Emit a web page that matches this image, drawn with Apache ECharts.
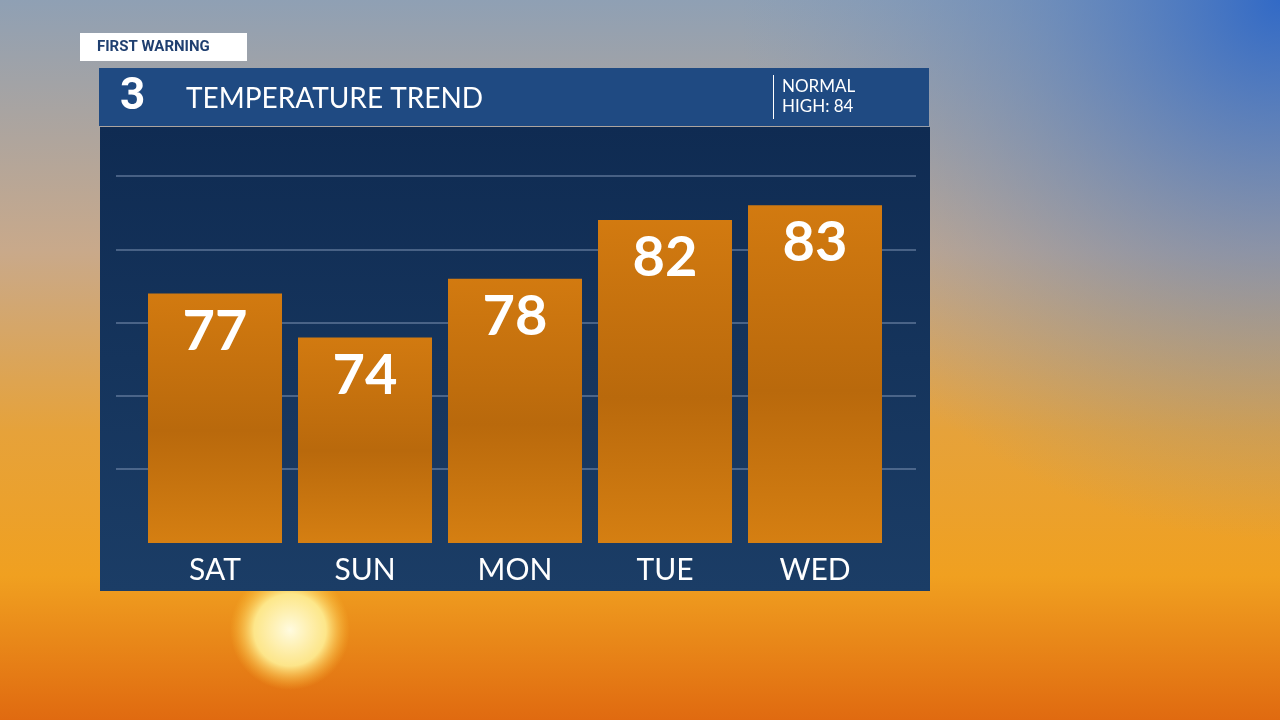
<!DOCTYPE html>
<html><head><meta charset="utf-8">
<script src="https://cdn.jsdelivr.net/npm/echarts@6/dist/echarts.min.js"></script>
<style>html,body{margin:0;padding:0;}#c{width:1280px;height:720px;}</style>
</head><body><div id="c"></div>
<script>
const days = ['SAT','SUN','MON','TUE','WED'];
const temps = [77, 74, 78, 82, 83];
const yMin = 60, yMax = 85, yStep = 5;
const title = 'TEMPERATURE TREND';
const normalText = 'NORMAL\nHIGH: 84';
const badge = 'FIRST WARNING';

const chart = echarts.init(document.getElementById('c'));
const barColor = new echarts.graphic.LinearGradient(0,0,0,1,[
  {offset:0,color:'#d27a10'},{offset:0.55,color:'#b9690c'},{offset:1,color:'#d57f12'}]);
chart.setOption({
  animation:false,
  graphic:[
    {type:'rect',z:-10,shape:{x:0,y:0,width:1280,height:720},style:{fill:new echarts.graphic.LinearGradient(0,0,0,1,[
      {offset:0,color:'#8fa0b4'},{offset:0.35,color:'#c9a98a'},{offset:0.6,color:'#e6a23a'},{offset:0.8,color:'#f0a020'},{offset:1,color:'#e06a10'}])}},
    {type:'rect',z:-9,shape:{x:0,y:0,width:1280,height:720},style:{fill:new echarts.graphic.RadialGradient(1,0,0.75,[
      {offset:0,color:'rgba(40,100,200,0.9)'},{offset:0.5,color:'rgba(90,130,190,0.5)'},{offset:1,color:'rgba(120,150,190,0)'}])}},
    {type:'circle',z:-8,shape:{cx:290,cy:630,r:60},style:{fill:new echarts.graphic.RadialGradient(0.5,0.5,0.5,[
      {offset:0,color:'#fffbe0'},{offset:0.6,color:'rgba(255,240,150,0.9)'},{offset:1,color:'rgba(255,200,60,0)'}])}},
    {type:'rect',z:-5,shape:{x:99,y:68,width:830,height:58},style:{fill:'#1f4a82'}},
    {type:'rect',z:-5,shape:{x:100,y:127,width:830,height:464},style:{fill:new echarts.graphic.LinearGradient(0,0,0,1,[
      {offset:0,color:'#0f2b52'},{offset:1,color:'#1b3d66'}])}},
    {type:'rect',z:-4,shape:{x:80,y:33,width:167,height:28},style:{fill:'#ffffff'}},
    {type:'text',z:5,style:{x:97,y:47,text:badge,fill:'#1f3f70',font:'bold 15px Roboto',verticalAlign:'middle'}},
    {type:'text',z:5,style:{x:120,y:98,text:'3',fill:'#ffffff',font:'bold 44px Roboto',verticalAlign:'middle'}},
    {type:'text',z:5,style:{x:186,y:99,text:title,fill:'#ffffff',font:'28px Lato',verticalAlign:'middle'}},
    {type:'rect',z:5,shape:{x:773,y:75,width:1,height:44},style:{fill:'#ffffff'}},
    {type:'text',z:5,style:{x:782,y:97,text:normalText,fill:'#ffffff',font:'17px Lato',verticalAlign:'middle',lineHeight:20}}
  ],
  grid:[
    {left:116,width:800,top:176,bottom:251},
    {left:140,width:750,top:176,bottom:177}
  ],
  xAxis:[
    {gridIndex:0,type:'category',data:days,show:false},
    {gridIndex:1,type:'category',data:days,axisLine:{show:false},axisTick:{show:false},
     axisLabel:{color:'#fff',fontSize:30,fontFamily:'Lato',margin:12}}
  ],
  yAxis:[
    {gridIndex:0,type:'value',min:65,max:yMax,interval:yStep,axisLabel:{show:false},axisLine:{show:false},axisTick:{show:false},
     splitLine:{lineStyle:{color:'rgba(140,160,190,0.45)',width:2}}},
    {gridIndex:1,type:'value',min:yMin,max:yMax,interval:yStep,show:false,splitLine:{show:false}}
  ],
  series:[{type:'bar',xAxisIndex:1,yAxisIndex:1,data:temps,barWidth:134,itemStyle:{color:barColor},
    label:{show:true,position:'insideTop',distance:10,color:'#fff',fontSize:56,fontWeight:'bold',fontFamily:'Lato'}}]
});
</script></body></html>
